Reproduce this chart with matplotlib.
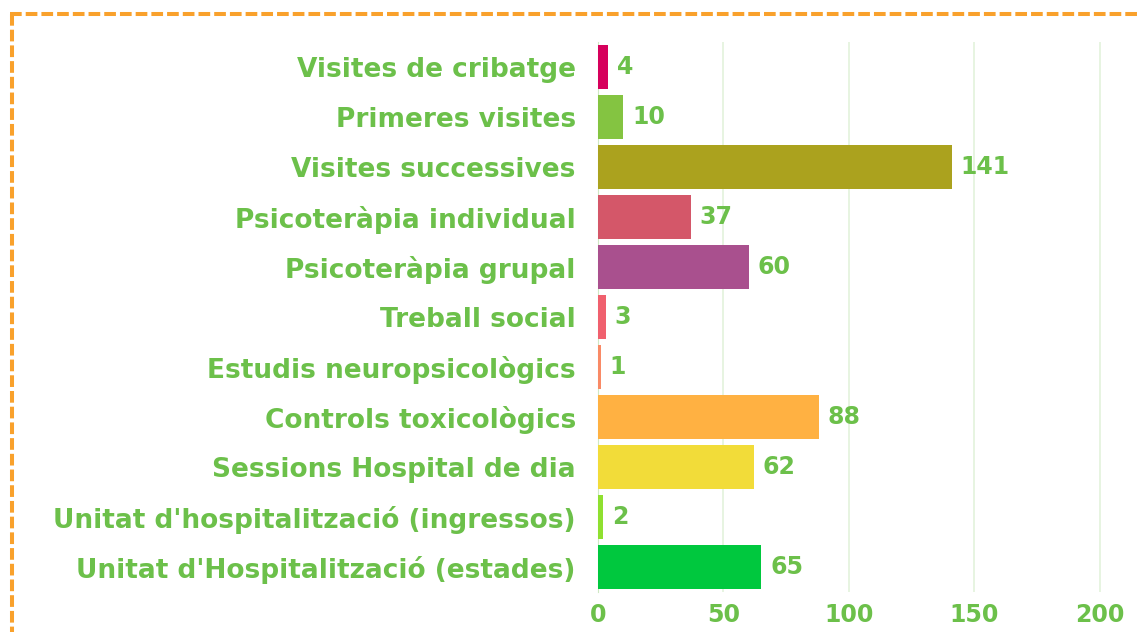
import matplotlib
matplotlib.use("Agg")
import matplotlib.pyplot as plt
from matplotlib.lines import Line2D

categories = [
    "Visites de cribatge",
    "Primeres visites",
    "Visites successives",
    "Psicoteràpia individual",
    "Psicoteràpia grupal",
    "Treball social",
    "Estudis neuropsicològics",
    "Controls toxicològics",
    "Sessions Hospital de dia",
    "Unitat d'hospitalització (ingressos)",
    "Unitat d'Hospitalització (estades)",
]
values = [4, 10, 141, 37, 60, 3, 1, 88, 62, 2, 65]
colors = ["#d6005c", "#84c441", "#aba21e", "#d45769", "#a9508e", "#f0606e",
          "#f98a66", "#ffb142", "#f2dc39", "#8fe030", "#00c83e"]
xticks = [0, 50, 100, 150, 200]

green = "#6cc04a"
plt.rcParams['font.family'] = ['DejaVu Sans']

fig = plt.figure(figsize=(11.4, 6.32), dpi=100)
ax = fig.add_axes([598/1140, 1 - 592/632, 542/1140, 550/632])

y = list(range(len(categories)))
ax.barh(y, values, height=0.88, color=colors, zorder=3)
for yi, v in zip(y, values):
    ax.annotate(str(v), (v, yi), xytext=(6.5, 0), textcoords="offset points",
                va="center", ha="left", color=green, fontsize=17, fontweight="bold")

ax.set_ylim(len(categories) - 0.5, -0.5)
ax.set_xlim(0, 216)
ax.set_yticks(y)
ax.set_yticklabels(categories, color=green, fontsize=19, fontweight="bold")
ax.set_xticks(xticks)
ax.set_xticklabels([str(t) for t in xticks], color=green, fontsize=17, fontweight="bold")
ax.tick_params(axis="both", length=0)
ax.tick_params(axis="y", pad=16)
ax.tick_params(axis="x", pad=8)
ax.grid(axis="x", color="#e3f2dc", linewidth=1.2, zorder=0)
for s in ["top", "right", "bottom"]:
    ax.spines[s].set_visible(False)
ax.spines["left"].set_color("#cfe8c4")

# dashed orange border (top and left)
border = dict(color="#f9a12c", linewidth=2.9, linestyle=(0, (2.9, 1.0)),
              transform=fig.transFigure)
fig.add_artist(Line2D([10/1140, 1], [1 - 14/632, 1 - 14/632], **border))
fig.add_artist(Line2D([12/1140, 12/1140], [1 - 14/632, 0], **border))

fig.savefig("out.png", dpi=100)
